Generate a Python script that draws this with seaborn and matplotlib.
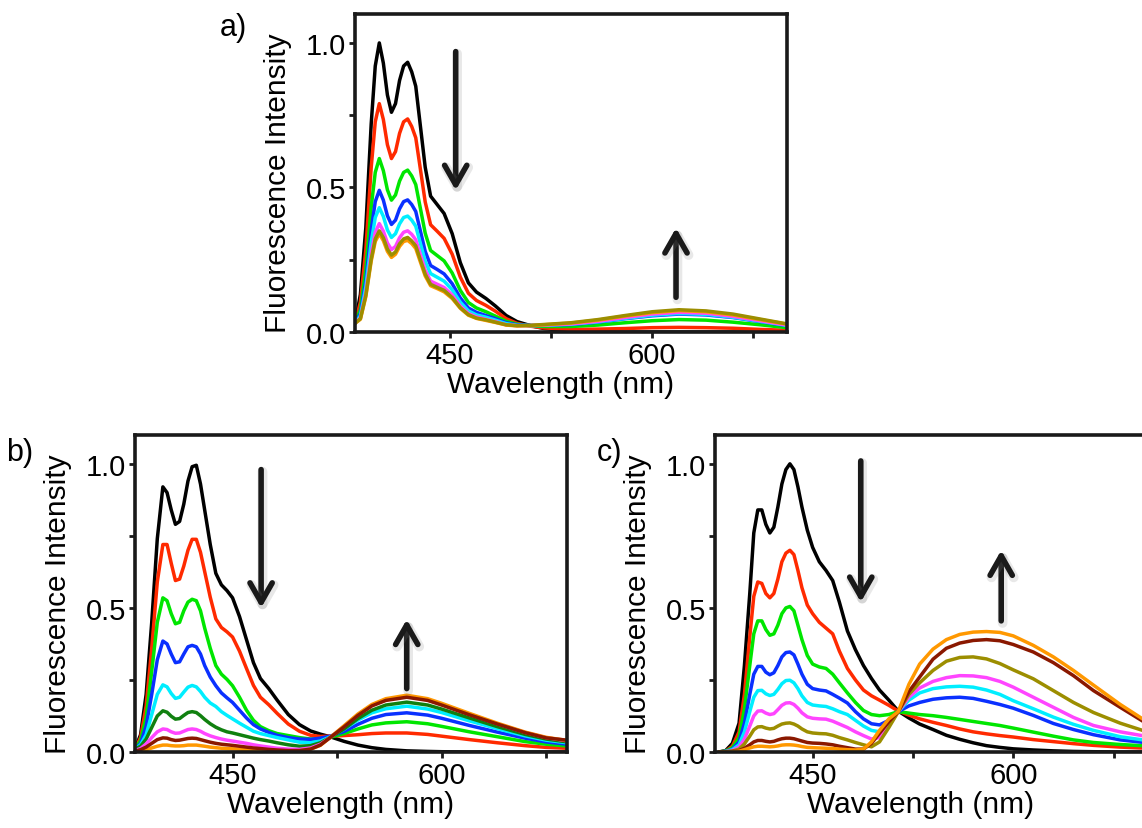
import matplotlib
matplotlib.use('Agg')
import matplotlib.pyplot as plt
import matplotlib.patheffects as pe
from matplotlib.ticker import FixedLocator
import seaborn as sns

# ---- panel a ----
wl_a = [380, 384, 388, 392, 395, 398, 401, 404, 407, 410, 413, 416, 419, 422, 425, 428, 432, 436, 441, 446,
        452, 458, 464, 470, 477, 484, 492, 500, 510, 520, 540, 560, 580, 600, 620, 640, 660, 680, 700]
a_black = [0.03, 0.13, 0.36, 0.72, 0.92, 1.00, 0.93, 0.82, 0.76, 0.79, 0.87, 0.92, 0.933, 0.90, 0.85, 0.73, 0.57, 0.47, 0.44, 0.41,
           0.34, 0.24, 0.17, 0.138, 0.116, 0.09, 0.057, 0.036, 0.022, 0.012, 0.003, 0.001, 0, 0, 0, 0, 0, 0, 0]
a_red = [0.03, 0.103, 0.284, 0.569, 0.727, 0.79, 0.735, 0.648, 0.60, 0.624, 0.687, 0.727, 0.737, 0.711, 0.672, 0.577, 0.45, 0.371, 0.348, 0.324,
         0.269, 0.19, 0.134, 0.109, 0.092, 0.072, 0.046, 0.030, 0.020, 0.014, 0.009, 0.010, 0.012, 0.015, 0.016, 0.015, 0.013, 0.009, 0.006]
a_green = [0.03, 0.078, 0.216, 0.432, 0.552, 0.60, 0.558, 0.492, 0.456, 0.474, 0.522, 0.552, 0.56, 0.54, 0.51, 0.438, 0.342, 0.282, 0.264, 0.246,
           0.204, 0.144, 0.102, 0.083, 0.070, 0.055, 0.037, 0.027, 0.022, 0.019, 0.019, 0.024, 0.032, 0.039, 0.043, 0.041, 0.034, 0.025, 0.015]
a_blue = [0.03, 0.064, 0.176, 0.353, 0.451, 0.49, 0.456, 0.402, 0.372, 0.387, 0.426, 0.451, 0.457, 0.441, 0.417, 0.358, 0.279, 0.230, 0.216, 0.201,
          0.167, 0.118, 0.083, 0.068, 0.057, 0.046, 0.032, 0.025, 0.023, 0.023, 0.026, 0.034, 0.046, 0.056, 0.062, 0.059, 0.050, 0.036, 0.022]
a_cyan = [0.03, 0.056, 0.155, 0.31, 0.396, 0.43, 0.40, 0.353, 0.327, 0.34, 0.374, 0.396, 0.401, 0.387, 0.366, 0.314, 0.245, 0.202, 0.189, 0.176,
          0.146, 0.103, 0.073, 0.059, 0.051, 0.041, 0.029, 0.023, 0.022, 0.023, 0.027, 0.035, 0.047, 0.058, 0.064, 0.061, 0.051, 0.037, 0.023]
a_magenta = [0.03, 0.049, 0.135, 0.27, 0.345, 0.375, 0.349, 0.308, 0.285, 0.296, 0.326, 0.345, 0.35, 0.338, 0.319, 0.274, 0.214, 0.176, 0.165, 0.154,
             0.128, 0.09, 0.064, 0.052, 0.044, 0.036, 0.025, 0.022, 0.022, 0.024, 0.028, 0.037, 0.050, 0.062, 0.068, 0.065, 0.054, 0.039, 0.024]
a_orange = [0.03, 0.044, 0.122, 0.245, 0.313, 0.34, 0.316, 0.279, 0.258, 0.269, 0.296, 0.313, 0.317, 0.306, 0.289, 0.248, 0.194, 0.16, 0.15, 0.139,
            0.116, 0.082, 0.058, 0.047, 0.040, 0.033, 0.024, 0.021, 0.022, 0.025, 0.031, 0.041, 0.055, 0.067, 0.074, 0.070, 0.059, 0.043, 0.027]
a_olive = [0.03, 0.046, 0.126, 0.252, 0.322, 0.35, 0.326, 0.287, 0.266, 0.277, 0.305, 0.322, 0.327, 0.315, 0.298, 0.256, 0.20, 0.165, 0.154, 0.144,
           0.119, 0.084, 0.06, 0.048, 0.042, 0.034, 0.025, 0.022, 0.023, 0.026, 0.032, 0.043, 0.057, 0.070, 0.077, 0.073, 0.062, 0.045, 0.028]

# ---- panel b ----
wl_b = [380, 384, 388, 392, 396, 400, 403, 406, 409, 412, 415, 418, 421, 424, 427, 430, 434, 438, 442, 446,
        450, 455, 460, 465, 470, 476, 482, 490, 498, 506, 513, 520, 530, 540, 550, 560, 575, 590, 600, 620,
        640, 660, 675, 690]
b_black = [0.01, 0.06, 0.2, 0.45, 0.74, 0.92, 0.90, 0.84, 0.79, 0.80, 0.86, 0.94, 0.99, 0.995, 0.93, 0.84, 0.72, 0.62, 0.58, 0.56,
           0.535, 0.47, 0.39, 0.31, 0.255, 0.22, 0.18, 0.13, 0.095, 0.073, 0.062, 0.053, 0.037, 0.024, 0.015, 0.009, 0.004, 0.002, 0.001, 0,
           0, 0, 0, 0]
b_red = [0.01, 0.05, 0.16, 0.36, 0.59, 0.72, 0.72, 0.655, 0.595, 0.60, 0.645, 0.70, 0.738, 0.738, 0.693, 0.626, 0.537, 0.462, 0.432, 0.417,
         0.399, 0.35, 0.29, 0.231, 0.19, 0.164, 0.134, 0.097, 0.072, 0.058, 0.054, 0.055, 0.057, 0.060, 0.064, 0.066, 0.066, 0.061, 0.055, 0.043,
         0.032, 0.022, 0.016, 0.013]
b_green = [0.01, 0.04, 0.12, 0.28, 0.45, 0.535, 0.525, 0.48, 0.445, 0.45, 0.49, 0.52, 0.53, 0.525, 0.49, 0.43, 0.36, 0.30, 0.27, 0.252,
           0.23, 0.19, 0.145, 0.11, 0.088, 0.074, 0.064, 0.057, 0.05, 0.045, 0.046, 0.051, 0.064, 0.08, 0.094, 0.101, 0.105, 0.098, 0.089, 0.07,
           0.053, 0.036, 0.027, 0.021]
b_blue = [0.01, 0.03, 0.09, 0.2, 0.32, 0.385, 0.375, 0.34, 0.31, 0.313, 0.34, 0.365, 0.37, 0.365, 0.34, 0.30, 0.26, 0.23, 0.205, 0.188,
          0.172, 0.145, 0.118, 0.095, 0.08, 0.068, 0.058, 0.05, 0.045, 0.044, 0.048, 0.055, 0.071, 0.096, 0.117, 0.13, 0.136, 0.128, 0.117, 0.092,
          0.069, 0.048, 0.035, 0.027]
b_cyan = [0.01, 0.025, 0.06, 0.13, 0.2, 0.233, 0.226, 0.203, 0.186, 0.19, 0.208, 0.225, 0.231, 0.226, 0.21, 0.19, 0.17, 0.158, 0.14, 0.127,
          0.115, 0.1, 0.086, 0.072, 0.064, 0.057, 0.05, 0.042, 0.034, 0.032, 0.038, 0.052, 0.079, 0.111, 0.136, 0.15, 0.159, 0.149, 0.137, 0.108,
          0.081, 0.056, 0.041, 0.032]
b_dkgreen = [0.01, 0.02, 0.045, 0.085, 0.125, 0.143, 0.138, 0.124, 0.114, 0.116, 0.127, 0.137, 0.14, 0.137, 0.126, 0.113, 0.098, 0.086, 0.077, 0.07,
             0.066, 0.06, 0.054, 0.048, 0.043, 0.038, 0.032, 0.025, 0.02, 0.022, 0.032, 0.05, 0.08, 0.116, 0.145, 0.163, 0.173, 0.163, 0.149, 0.118,
             0.088, 0.061, 0.045, 0.035]
b_magenta = [0.005, 0.012, 0.028, 0.05, 0.07, 0.08, 0.078, 0.07, 0.065, 0.066, 0.072, 0.078, 0.08, 0.078, 0.072, 0.064, 0.056, 0.05, 0.045, 0.041,
             0.038, 0.034, 0.03, 0.025, 0.021, 0.017, 0.013, 0.01, 0.009, 0.014, 0.027, 0.05, 0.089, 0.129, 0.162, 0.181, 0.193, 0.181, 0.166, 0.131,
             0.098, 0.068, 0.05, 0.039]
b_dkred = [0.003, 0.008, 0.017, 0.03, 0.043, 0.049, 0.048, 0.043, 0.04, 0.041, 0.044, 0.047, 0.048, 0.047, 0.043, 0.039, 0.034, 0.03, 0.027, 0.025,
           0.023, 0.02, 0.017, 0.014, 0.012, 0.009, 0.007, 0.005, 0.005, 0.01, 0.024, 0.05, 0.087, 0.127, 0.16, 0.179, 0.19, 0.179, 0.163, 0.129,
           0.097, 0.067, 0.049, 0.041]
b_orange = [0.002, 0.004, 0.008, 0.014, 0.02, 0.024, 0.024, 0.022, 0.021, 0.021, 0.022, 0.024, 0.024, 0.024, 0.022, 0.02, 0.017, 0.015, 0.013, 0.012,
            0.011, 0.01, 0.008, 0.007, 0.006, 0.005, 0.004, 0.003, 0.004, 0.01, 0.023, 0.05, 0.091, 0.132, 0.165, 0.185, 0.197, 0.185, 0.169, 0.134,
            0.1, 0.069, 0.051, 0.04]

# ---- panel c ----
wl_c = [380, 385, 390, 395, 399, 403, 406, 409, 412, 415, 418, 421, 424, 427, 430, 433, 436, 439, 442, 446,
        450, 455, 460, 465, 470, 476, 482, 488, 494, 500, 507, 514, 522, 530, 540, 550, 560, 570, 580, 590,
        600, 615, 630, 645, 660, 680, 700]
c_black = [0.0, 0.005, 0.03, 0.10, 0.30, 0.55, 0.76, 0.84, 0.84, 0.79, 0.76, 0.78, 0.85, 0.93, 0.98, 1.0, 0.98, 0.92, 0.85, 0.77,
           0.71, 0.66, 0.63, 0.595, 0.52, 0.42, 0.355, 0.30, 0.255, 0.215, 0.18, 0.142, 0.118, 0.097, 0.078, 0.058, 0.044, 0.032, 0.022, 0.016,
           0.011, 0.007, 0.004, 0.002, 0.001, 0, 0]
c_red = [0, 0.003, 0.02, 0.07, 0.2, 0.4, 0.54, 0.59, 0.585, 0.55, 0.535, 0.55, 0.6, 0.66, 0.69, 0.70, 0.685, 0.63, 0.57, 0.51,
         0.48, 0.45, 0.43, 0.41, 0.35, 0.29, 0.25, 0.215, 0.195, 0.18, 0.162, 0.142, 0.128, 0.115, 0.103, 0.092, 0.08, 0.07, 0.063, 0.057,
         0.052, 0.043, 0.036, 0.029, 0.023, 0.017, 0.013]
c_green = [0, 0.003, 0.015, 0.05, 0.15, 0.3, 0.41, 0.455, 0.455, 0.425, 0.405, 0.41, 0.44, 0.48, 0.5, 0.505, 0.49, 0.44, 0.39, 0.335,
           0.305, 0.295, 0.29, 0.27, 0.24, 0.205, 0.172, 0.144, 0.13, 0.126, 0.13, 0.14, 0.135, 0.13, 0.126, 0.12, 0.113, 0.106, 0.099, 0.092,
           0.083, 0.069, 0.055, 0.042, 0.033, 0.026, 0.021]
c_blue = [0, 0.002, 0.01, 0.035, 0.1, 0.2, 0.27, 0.297, 0.297, 0.277, 0.268, 0.275, 0.3, 0.33, 0.345, 0.347, 0.337, 0.305, 0.27, 0.235,
          0.22, 0.215, 0.212, 0.2, 0.187, 0.17, 0.14, 0.115, 0.098, 0.094, 0.11, 0.14, 0.16, 0.172, 0.183, 0.188, 0.19, 0.186, 0.176, 0.165,
          0.152, 0.127, 0.099, 0.078, 0.06, 0.042, 0.032]
c_cyan = [0, 0.002, 0.008, 0.025, 0.07, 0.14, 0.19, 0.213, 0.214, 0.202, 0.196, 0.2, 0.217, 0.237, 0.248, 0.249, 0.24, 0.22, 0.195, 0.172,
          0.163, 0.16, 0.158, 0.15, 0.14, 0.13, 0.11, 0.09, 0.075, 0.07, 0.1, 0.14, 0.18, 0.205, 0.22, 0.226, 0.228, 0.225, 0.215, 0.2,
          0.178, 0.15, 0.121, 0.096, 0.075, 0.053, 0.04]
c_magenta = [0, 0.001, 0.005, 0.017, 0.045, 0.09, 0.125, 0.142, 0.143, 0.135, 0.13, 0.133, 0.147, 0.162, 0.17, 0.171, 0.165, 0.152, 0.136, 0.122,
             0.117, 0.115, 0.114, 0.107, 0.097, 0.085, 0.07, 0.057, 0.045, 0.05, 0.09, 0.14, 0.19, 0.222, 0.245, 0.258, 0.265, 0.264, 0.258, 0.245,
             0.225, 0.19, 0.155, 0.12, 0.092, 0.07, 0.054]
c_olive = [0, 0.001, 0.003, 0.01, 0.028, 0.055, 0.077, 0.087, 0.088, 0.083, 0.08, 0.082, 0.09, 0.097, 0.1, 0.101, 0.097, 0.09, 0.08, 0.07,
           0.066, 0.064, 0.063, 0.058, 0.05, 0.042, 0.033, 0.025, 0.018, 0.035, 0.085, 0.14, 0.2, 0.24, 0.283, 0.315, 0.328, 0.33, 0.323, 0.307,
           0.285, 0.254, 0.213, 0.172, 0.137, 0.1, 0.07]
c_dkred = [0, 0.001, 0.002, 0.005, 0.013, 0.025, 0.035, 0.04, 0.04, 0.037, 0.035, 0.037, 0.042, 0.046, 0.048, 0.048, 0.046, 0.042, 0.038, 0.033,
           0.031, 0.03, 0.028, 0.025, 0.02, 0.015, 0.01, 0.01, 0.03, 0.065, 0.105, 0.14, 0.21, 0.26, 0.322, 0.36, 0.378, 0.387, 0.39, 0.386,
           0.373, 0.347, 0.31, 0.265, 0.213, 0.155, 0.098]
c_orange = [0, 0.0, 0.001, 0.003, 0.008, 0.014, 0.018, 0.02, 0.02, 0.019, 0.018, 0.019, 0.021, 0.024, 0.025, 0.025, 0.024, 0.022, 0.019, 0.016,
            0.015, 0.014, 0.013, 0.012, 0.01, 0.008, 0.007, 0.01, 0.035, 0.075, 0.115, 0.14, 0.235, 0.305, 0.357, 0.39, 0.408, 0.416, 0.418, 0.415,
            0.403, 0.37, 0.33, 0.283, 0.232, 0.165, 0.105]

BLACK, RED, GREEN, BLUE, CYAN = '#000000', '#ff2a00', '#00e600', '#0a30ff', '#00eeff'
MAGENTA, DKGREEN, DKRED, ORANGE, OLIVE = '#ff45ff', '#10800f', '#8a1800', '#ff9800', '#9c8e00'

sns.set_theme(style='ticks')
plt.rcParams['font.family'] = ['Liberation Sans', 'DejaVu Sans']
plt.rcParams.update({'text.color': 'black', 'axes.labelcolor': 'black',
                     'xtick.color': 'black', 'ytick.color': 'black'})

W, H = 1142, 829
fig = plt.figure(figsize=(W / 100, H / 100), dpi=100)


def px_axes(left, top, right, bottom):
    return fig.add_axes([left / W, 1 - bottom / H, (right - left) / W, (bottom - top) / H])


def draw_panel(ax, wl, curves, xlim, down, up):
    for vals, col in curves:
        sns.lineplot(x=wl, y=vals, color=col, lw=2.5, ax=ax, estimator=None, sort=False,
                     solid_joinstyle='round', solid_capstyle='round')
    ax.set_xlim(*xlim)
    ax.set_ylim(0, 1.1)
    ax.yaxis.set_major_locator(FixedLocator([0, 0.5, 1.0]))
    ax.yaxis.set_minor_locator(FixedLocator([0.25, 0.75]))
    ax.set_yticklabels(['0.0', '0.5', '1.0'])
    ax.xaxis.set_major_locator(FixedLocator([450, 600]))
    ax.xaxis.set_minor_locator(FixedLocator([525, 675]))
    ax.tick_params(which='both', direction='out', length=4.5, width=2, labelsize=21, pad=2, color='k')
    for s in ax.spines.values():
        s.set_linewidth(2.6)
        s.set_color('k')
    ax.set_xlabel('Wavelength (nm)', fontsize=21.5)
    ax.set_ylabel('Fluorescence Intensity', fontsize=21.5)
    ax.xaxis.set_label_coords(0.475, -0.12)
    ax.yaxis.set_label_coords(-0.145, 0.47)
    for (x0, y0, y1) in (down, up):
        ax.annotate('', xy=(x0, y1), xytext=(x0, y0),
                    arrowprops=dict(arrowstyle='->,head_length=0.7,head_width=0.4', lw=4, color='k',
                                    mutation_scale=20, shrinkA=0, shrinkB=0,
                                    path_effects=[pe.SimpleLineShadow(offset=(1, -1.5), shadow_color='0.5',
                                                                      alpha=0.18, linewidth=7), pe.Normal()]))


ax_a = px_axes(355, 15, 787, 333)
draw_panel(ax_a, wl_a,
           [(a_black, BLACK), (a_red, RED), (a_green, GREEN), (a_blue, BLUE), (a_cyan, CYAN),
            (a_magenta, MAGENTA), (a_orange, ORANGE), (a_olive, OLIVE)],
           (380, 700), (454.6, 0.97, 0.49), (617.8, 0.12, 0.36))

ax_b = px_axes(135, 436, 567, 753)
draw_panel(ax_b, wl_b,
           [(b_black, BLACK), (b_red, RED), (b_green, GREEN), (b_blue, BLUE), (b_cyan, CYAN),
            (b_dkgreen, DKGREEN), (b_magenta, MAGENTA), (b_orange, ORANGE), (b_dkred, DKRED)],
           (380, 690), (470.5, 0.98, 0.50), (575, 0.22, 0.46))

ax_c = px_axes(715, 436, 1147, 753)
draw_panel(ax_c, wl_c,
           [(c_black, BLACK), (c_red, RED), (c_green, GREEN), (c_blue, BLUE), (c_cyan, CYAN),
            (c_magenta, MAGENTA), (c_olive, OLIVE), (c_dkred, DKRED), (c_orange, ORANGE)],
           (377, 700), (486, 1.01, 0.52), (591, 0.455, 0.70))

fig.text(220 / W, 1 - 13 / H, 'a)', fontsize=22, ha='left', va='top')
fig.text(6 / W, 1 - 438 / H, 'b)', fontsize=22, ha='left', va='top')
fig.text(597 / W, 1 - 438 / H, 'c)', fontsize=22, ha='left', va='top')

fig.savefig('out.png', dpi=100)
